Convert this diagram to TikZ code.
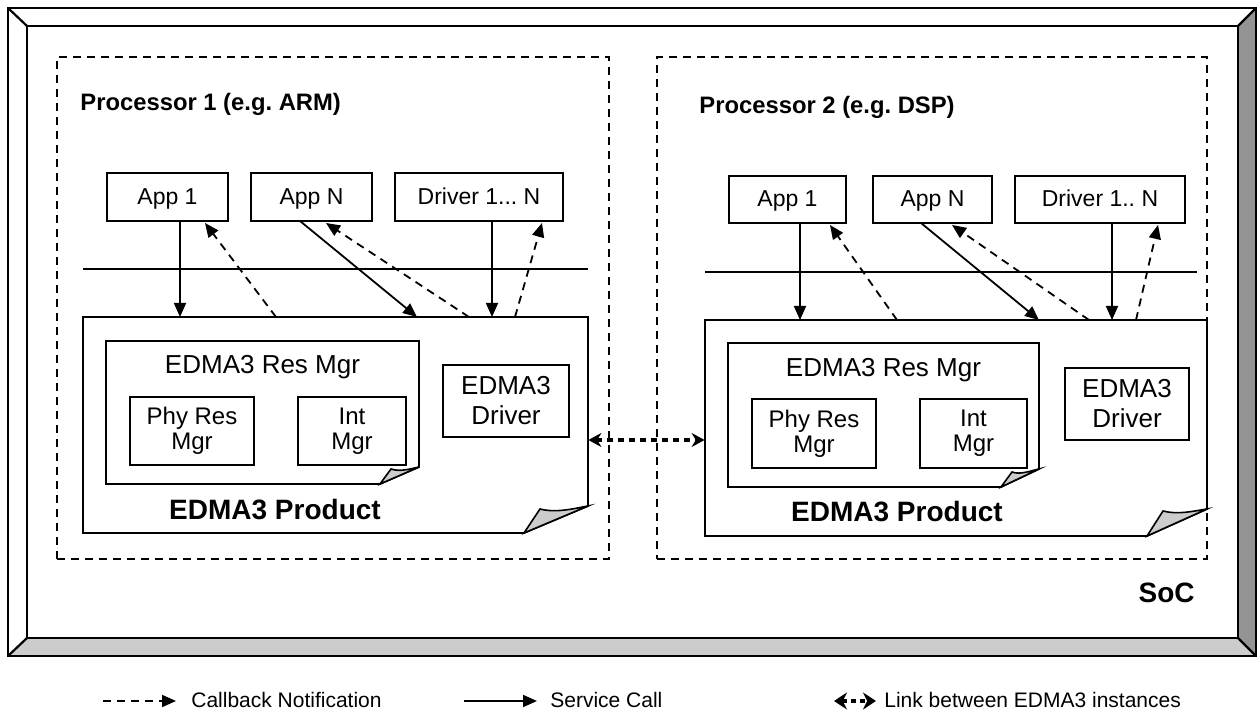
\documentclass[tikz,border=0pt]{standalone}
\usepackage{fontspec}
\setmainfont{Liberation Sans}
\usetikzlibrary{arrows.meta,calc}
\begin{document}
\begin{tikzpicture}[x=0.5pt,y=-0.5pt,
  framebox/.style={draw,line width=1.1pt},
  procbox/.style={draw,line width=0.9pt,dash pattern=on 4pt off 3pt,inner sep=0pt},
  appbox/.style={draw,line width=0.9pt,inner sep=0pt,align=center,text height=8.3pt,text depth=1pt,font=\fontsize{11.5}{13}\selectfont},
  subbox/.style={draw,line width=0.9pt,inner sep=0pt,align=center,font=\fontsize{12}{12.5}\selectfont},
  drvbox/.style={draw,line width=0.9pt,inner sep=0pt,align=center,font=\fontsize{13}{15}\selectfont},
  holder/.style={inner sep=0pt},
  foldline/.style={draw,line width=0.9pt,fill=white},
  curl/.style={draw,line width=0.8pt,fill=black!20},
  proclabel/.style={anchor=west,inner sep=0pt,font=\bfseries\fontsize{11.9}{14}\selectfont},
  prodlabel/.style={inner sep=0pt,font=\bfseries\fontsize{14}{16}\selectfont},
  reslabel/.style={inner sep=0pt,font=\fontsize{13}{15}\selectfont},
  legtext/.style={anchor=west,inner sep=0pt,font=\fontsize{10.5}{12}\selectfont},
  svc/.style={line width=0.9pt,-{Triangle[length=7pt,width=6pt]}},
  cbk/.style={line width=0.9pt,dash pattern=on 4pt off 3pt,-{Triangle[length=7pt,width=6pt]}},
  lnk/.style={line width=2pt,dash pattern=on 3pt off 2.5pt,{Stealth[length=6.5pt,width=7pt]}-{Stealth[length=6.5pt,width=7pt]}},
  lnkleg/.style={line width=2.2pt,dash pattern=on 2.5pt off 2pt,{Stealth[length=6.5pt,width=8.5pt]}-{Stealth[length=6.5pt,width=8.5pt]}},
  sep/.style={line width=0.6pt}
]
\useasboundingbox (0,0) rectangle (1260,711);

% ---------- SoC frame ----------
\fill[black!42] (1238,26) -- (1256,8) -- (1256,656) -- (1238,638) -- cycle;
\fill[black!20] (27,638) -- (1238,638) -- (1256,656) -- (8,656) -- cycle;
\draw[framebox] (8,8) rectangle (1256,656);
\draw[framebox] (27,26) rectangle (1238,638);
\draw[framebox] (8,8) -- (27,26) (1256,8) -- (1238,26) (8,656) -- (27,638) (1256,656) -- (1238,638);
\node[anchor=east,inner sep=0pt,font=\bfseries\fontsize{14}{16}\selectfont] (soc) at (1195,593) {SoC};

% ---------- Processor boxes ----------
\node[procbox,minimum width=276pt,minimum height=251pt] (P1) at (333,308) {};
\node[procbox,minimum width=275pt,minimum height=251pt] (P2) at (932,308) {};
\node[proclabel] (P1lab) at (80,104) {Processor 1 (e.g.\ ARM)};
\node[proclabel] (P2lab) at (699,107) {Processor 2 (e.g.\ DSP)};

% ---------- Left processor ----------
\node[appbox,minimum width=60.5pt,minimum height=24pt] (La1) at (167.5,197) {App 1};
\node[appbox,minimum width=60.5pt,minimum height=24pt] (LaN) at (311.5,197) {App N};
\node[appbox,minimum width=84pt,minimum height=24pt] (Ldr) at (479,197) {Driver 1...\ N};
\draw[sep] (83,269) coordinate (Lsep1) -- (588,269) coordinate (Lsep2);

% product (folded page)
\node[holder,minimum width=252.5pt,minimum height=108pt] (Lprod) at (335.5,425) {};
\draw[foldline] (83,317) -- (588,317) -- (588,506) -- (524,533) -- (83,533) -- cycle;
\draw[curl] (524,533) -- (540,509) .. controls (556,513) and (572,509) .. (588,506) -- cycle;
\node[prodlabel] (Lprodlab) at (275,510) {EDMA3 Product};

% res mgr (folded page)
\node[holder,minimum width=156.5pt,minimum height=71.5pt] (Lres) at (262.5,412.5) {};
\draw[foldline] (106,341) -- (419,341) -- (419,467) -- (380,484) -- (106,484) -- cycle;
\draw[curl] (380,484) -- (391,469) .. controls (400,472) and (410,469) .. (419,467) -- cycle;
\node[reslabel] (Lreslab) at (262.5,367) {EDMA3 Res Mgr};
\node[subbox,minimum width=62pt,minimum height=34pt] (Lphy) at (192,431) {Phy Res\\Mgr};
\node[subbox,minimum width=54pt,minimum height=34pt] (Lint) at (352,431) {Int\\Mgr};
\node[drvbox,minimum width=63pt,minimum height=36pt] (Ldrv) at (506,401) {EDMA3\\Driver};

% left connectors
\coordinate (Ls1) at (180,317);
\coordinate (Ld1) at (276,317);
\coordinate (Ld1t) at (205,223);
\coordinate (Ls2f) at (300,221);
\coordinate (Ls2) at (417,317);
\coordinate (Ld2) at (469,317);
\coordinate (Ld2t) at (326,223);
\coordinate (Ls3) at (492,317);
\coordinate (Ld3) at (515,317);
\coordinate (Ld3t) at (542,223);
\draw[svc] (La1.south -| Ls1) -- (Ls1);
\draw[cbk] (Ld1) -- (Ld1t);
\draw[svc] (Ls2f) -- (Ls2);
\draw[cbk] (Ld2) -- (Ld2t);
\draw[svc] (Ldr.south -| Ls3) -- (Ls3);
\draw[cbk] (Ld3) -- (Ld3t);

% ---------- Right processor ----------
\node[appbox,minimum width=58.5pt,minimum height=23.5pt] (Ra1) at (787.5,199.5) {App 1};
\node[appbox,minimum width=59.5pt,minimum height=23.5pt] (RaN) at (932.5,199.5) {App N};
\node[appbox,minimum width=85pt,minimum height=23.5pt] (Rdr) at (1100,199.5) {Driver 1..\ N};
\draw[sep] (705,272) coordinate (Rsep1) -- (1197,272) coordinate (Rsep2);

\node[holder,minimum width=251pt,minimum height=108pt] (Rprod) at (956,428) {};
\draw[foldline] (705,320) -- (1207,320) -- (1207,509) -- (1147,536) -- (705,536) -- cycle;
\draw[curl] (1147,536) -- (1163,511) .. controls (1178,515) and (1194,511) .. (1207,509) -- cycle;
\node[prodlabel] (Rprodlab) at (897,512) {EDMA3 Product};

\node[holder,minimum width=155.5pt,minimum height=72pt] (Rres) at (883.5,415) {};
\draw[foldline] (728,343) -- (1039,343) -- (1039,469) -- (1001,487) -- (728,487) -- cycle;
\draw[curl] (1001,487) -- (1012,472) .. controls (1020,475) and (1030,471) .. (1039,469) -- cycle;
\node[reslabel] (Rreslab) at (883.5,370) {EDMA3 Res Mgr};
\node[subbox,minimum width=62pt,minimum height=34.5pt] (Rphy) at (814,433.5) {Phy Res\\Mgr};
\node[subbox,minimum width=53.5pt,minimum height=34.5pt] (Rint) at (973.5,433.5) {Int\\Mgr};
\node[drvbox,minimum width=62pt,minimum height=36pt] (Rdrv) at (1127,404) {EDMA3\\Driver};

\coordinate (Rs1) at (800,320);
\coordinate (Rd1) at (897,320);
\coordinate (Rd1t) at (830,225);
\coordinate (Rs2f) at (921,223);
\coordinate (Rs2) at (1039,320);
\coordinate (Rd2) at (1089,320);
\coordinate (Rd2t) at (952,225);
\coordinate (Rs3) at (1112,320);
\coordinate (Rd3) at (1136,320);
\coordinate (Rd3t) at (1158,225);
\draw[svc] (Ra1.south -| Rs1) -- (Rs1);
\draw[cbk] (Rd1) -- (Rd1t);
\draw[svc] (Rs2f) -- (Rs2);
\draw[cbk] (Rd2) -- (Rd2t);
\draw[svc] (Rdr.south -| Rs3) -- (Rs3);
\draw[cbk] (Rd3) -- (Rd3t);

% ---------- link between instances ----------
\coordinate (lk) at (0,440);
\draw[lnk] (lk -| Lprod.east) -- (lk -| Rprod.west);

% ---------- legend ----------
\coordinate (g1a) at (103,701);
\coordinate (g1b) at (176,701);
\draw[cbk] (g1a) -- (g1b);
\node[legtext] (g1t) at (191,700) {Callback Notification};
\coordinate (g2a) at (464,701);
\coordinate (g2b) at (537,701);
\draw[svc] (g2a) -- (g2b);
\node[legtext] (g2t) at (550,700) {Service Call};
\coordinate (g3a) at (834,701);
\coordinate (g3b) at (876,701);
\draw[lnkleg] (g3a) -- (g3b);
\node[legtext] (g3t) at (884,700) {Link between EDMA3 instances};
\end{tikzpicture}
\end{document}
